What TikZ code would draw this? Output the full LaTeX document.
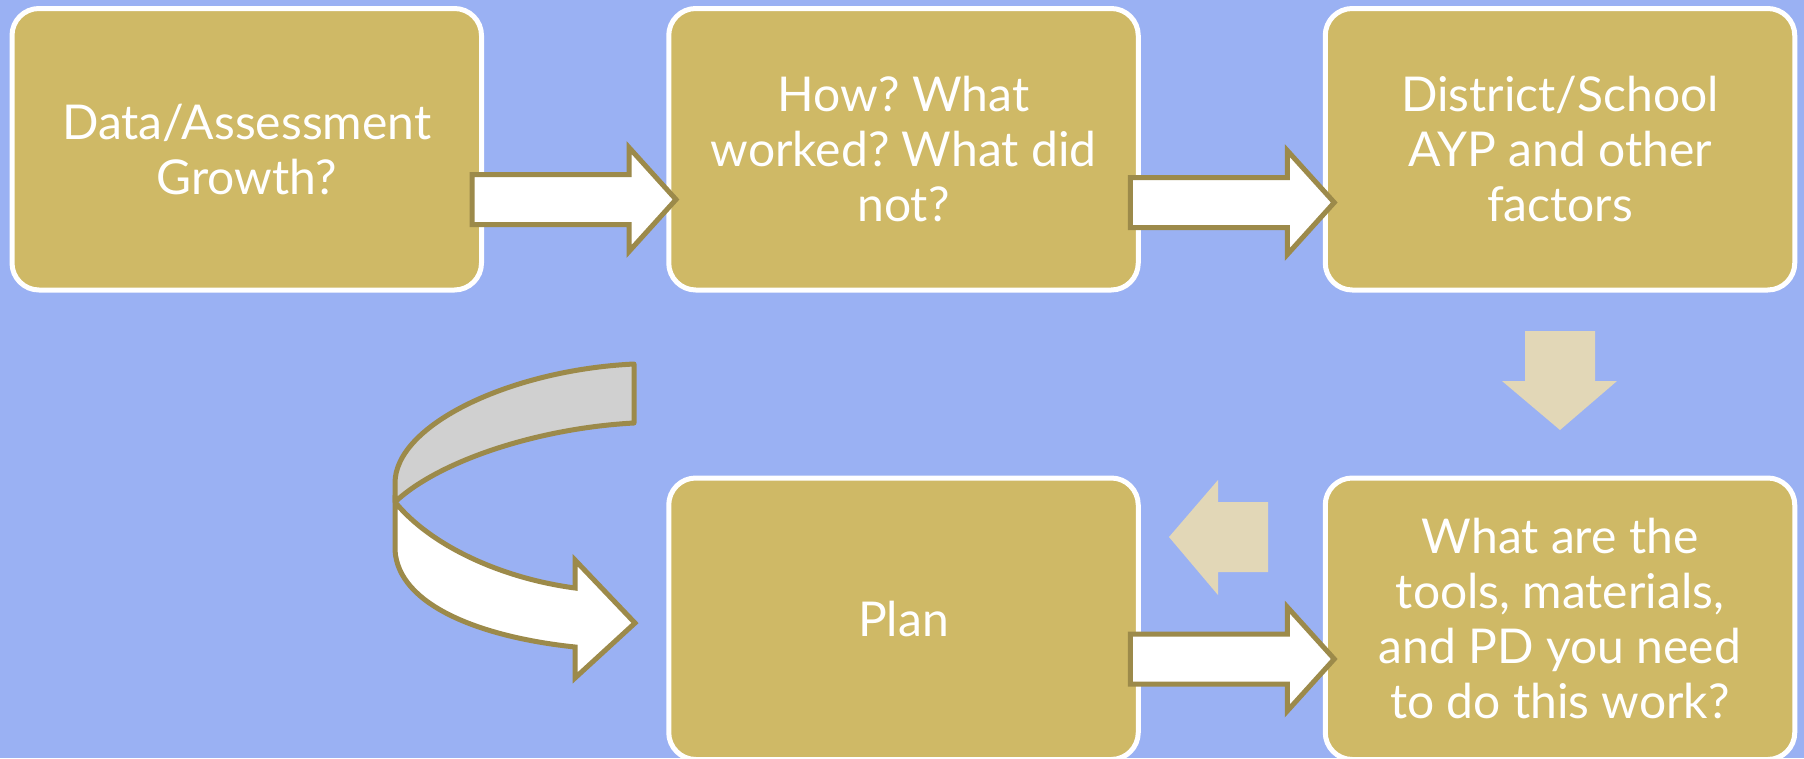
\documentclass[tikz,border=0pt]{standalone}
\usepackage{fontspec}
\setmainfont{Lato}
\frenchspacing
\usetikzlibrary{calc}
\definecolor{bg}{RGB}{154,177,243}
\definecolor{gold}{RGB}{207,185,102}
\definecolor{olive}{RGB}{156,138,74}
\definecolor{pale}{RGB}{226,215,183}
\definecolor{band}{RGB}{208,208,208}
\begin{document}
\begin{tikzpicture}[x=1pt,y=-1pt,
  box/.style={draw=white, line width=5pt, fill=gold, rounded corners=27pt,
    minimum width=469.5pt, minimum height=281.5pt, inner sep=0pt,
    text=white, align=center, font=\fontsize{48}{55}\selectfont},
  barrow/.style={draw=olive, line width=5pt, fill=white, line join=miter},
  parrow/.style={fill=pale},
  cband/.style={draw=olive, line width=5pt, fill=band, line join=round},
  wband/.style={draw=olive, line width=5pt, fill=white, line join=miter},
  rarrow/.pic={\draw[barrow] (0,-25) -- (157,-25) -- (157,-52) -- (204,0) -- (157,52) -- (157,25) -- (0,25) -- cycle;}]
\fill[bg] (0,0) rectangle (1804,758);
\useasboundingbox (0,0) rectangle (1804,758);
\node[box] (b1) at (246.75,149.25) {Data/Assessment\\Growth?};
\node[box] (b2) at (903.5,149.25) {How? What\\worked? What did\\not?};
\node[box] (b3) at (1560,149.25) {District/School\\AYP and other\\factors};
\node[box] (b4) at (903.5,618.75) {Plan};
\node[box] (b5) at (1560,618.75) {What are the\\tools, materials,\\and PD you need\\to do this work?};
\pic at ($(b1.east)+(-12,50.25)$) {rarrow};
\pic at ($(b2.east)+(-10.5,53.25)$) {rarrow};
\pic at ($(b4.east)+(-10.5,40.25)$) {rarrow};
\fill[parrow] (1525,331) -- (1595,331) -- (1595,381) -- (1617,381) -- (1560,430) -- (1502,381) -- (1525,381) -- cycle;
\fill[parrow] (1268,502) -- (1268,572) -- (1218,572) -- (1218,595) -- (1169,537) -- (1218,480) -- (1218,502) -- cycle;
\coordinate (j) at (395,502);
\draw[cband] (634,364) -- (634,423) .. controls (540,428) and (440,460) .. (j) -- (395,483) .. controls (395,425) and (510,370) .. (634,364) -- cycle;
\draw[wband] (j) -- (395,550) .. controls (398,605) and (480,637) .. (575,647) -- (575,678) -- (635,623) -- (575,560) -- (575,588) .. controls (500,578) and (430,545) .. (j) -- cycle;
\end{tikzpicture}
\end{document}
